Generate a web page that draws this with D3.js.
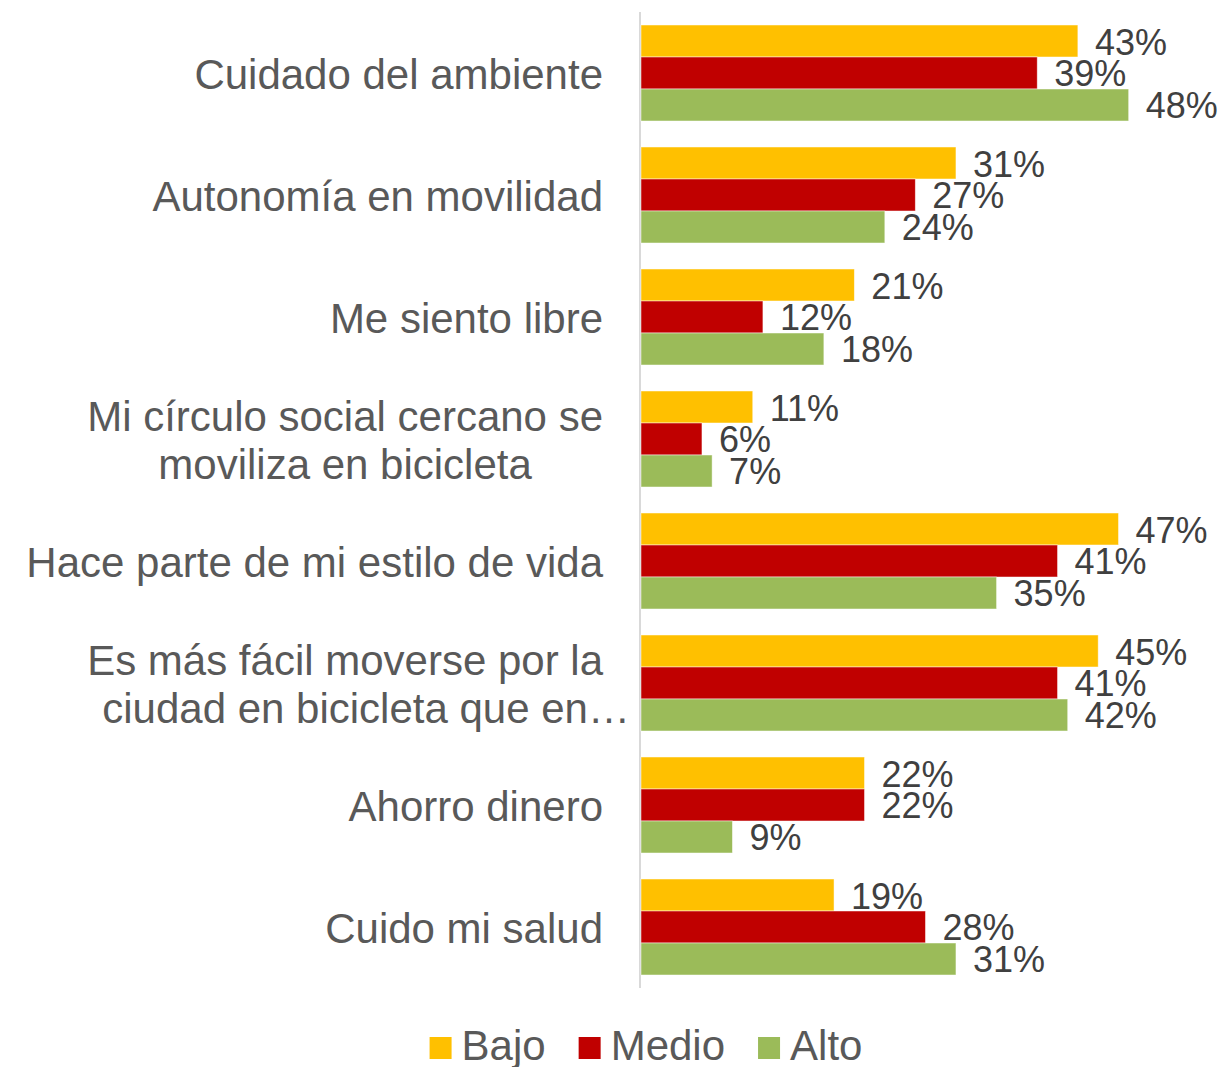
<!DOCTYPE html>
<html>
<head>
<meta charset="utf-8">
<script src="https://cdn.jsdelivr.net/npm/d3@7"></script>
<style>
  html, body { margin: 0; padding: 0; background: #fff; }
  svg { display: block; font-family: "Liberation Sans", Arial, sans-serif; }
</style>
</head>
<body>
<svg id="chart" width="1223" height="1067"></svg>
<script>
// Motivos para usar la bicicleta, por nivel
const categories = [
  ["Cuidado del ambiente"],
  ["Autonomía en movilidad"],
  ["Me siento libre"],
  ["Mi círculo social cercano se", "moviliza en bicicleta"],
  ["Hace parte de mi estilo de vida"],
  ["Es más fácil moverse por la", "ciudad en bicicleta que en…"],
  ["Ahorro dinero"],
  ["Cuido mi salud"]
];
const series = ["Bajo", "Medio", "Alto"];
const bajo  = [43, 31, 21, 11, 47, 45, 22, 19];
const medio = [39, 27, 12, 6, 41, 41, 22, 28];
const alto  = [48, 24, 18, 7, 35, 42, 9, 31];
const colors = ["#FFC000", "#C00000", "#9BBB59"];

const values = [bajo, medio, alto];
const keys = categories.map((c, i) => "c" + i);

const svg = d3.select("#chart");

const x = d3.scaleLinear().domain([0, 50]).range([641, 1149]);
const y = d3.scaleBand().domain(keys).range([12, 988])
  .paddingInner(0.213).paddingOuter(0.1065);
const ySub = d3.scaleBand().domain(series).range([0, y.bandwidth()]);
const color = d3.scaleOrdinal().domain(series).range(colors);

// vertical category axis line
svg.append("line")
  .attr("x1", 640).attr("x2", 640)
  .attr("y1", 12).attr("y2", 988)
  .attr("stroke", "#d9d9d9").attr("stroke-width", 2);

// bars
const groups = svg.append("g").selectAll("g")
  .data(keys)
  .join("g")
  .attr("transform", k => `translate(0,${y(k)})`);

groups.each(function(k, ci) {
  const g = d3.select(this);
  const rows = series.map((s, si) => ({ s, v: values[si][ci] }));
  g.selectAll("rect")
    .data(rows)
    .join("rect")
    .attr("x", x(0))
    .attr("y", d => ySub(d.s))
    .attr("width", d => x(d.v) - x(0))
    .attr("height", ySub.bandwidth())
    .attr("fill", d => color(d.s))
    .attr("stroke", "#ffffff")
    .attr("stroke-opacity", 0.6)
    .attr("stroke-width", 0.8);
  g.selectAll("text.val")
    .data(rows)
    .join("text")
    .attr("class", "val")
    .attr("x", d => x(d.v) + 17)
    .attr("y", d => ySub(d.s) + ySub.bandwidth() / 2 + 13.5)
    .attr("font-size", 36)
    .attr("fill", "#404040")
    .text(d => d.v + "%");
});

// category labels, multi-line labels centred on each other
const labelRight = 603;
const lineGap = 48;
const labels = svg.append("g").attr("font-size", 42).attr("fill", "#595959");
categories.forEach((lines, ci) => {
  const cy = y(keys[ci]) + y.bandwidth() / 2;
  const first = cy - (lines.length - 1) * lineGap / 2 + 15.5;
  if (lines.length === 1) {
    labels.append("text")
      .attr("x", labelRight).attr("y", first)
      .attr("text-anchor", "end")
      .text(lines[0]);
    return;
  }
  const nodes = lines.map((ln, li) => {
    const trunc = ln.endsWith("…");
    const t = labels.append("text").attr("y", first + li * lineGap)
      .text(trunc ? ln.slice(0, -1) : ln);
    return { t, trunc, w: t.node().getComputedTextLength() };
  });
  const maxW = d3.max(nodes, n => n.w);
  const center = labelRight - maxW / 2;
  nodes.forEach(n => {
    n.t.attr("x", center - n.w / 2);
    if (n.trunc) n.t.append("tspan").text("…");
  });
});

// legend
const legend = svg.append("g");
const sq = 22, sqGap = 10, itemGap = 33, legendY = 1060;
let cursor = 0;
const items = series.map(s => {
  const g = legend.append("g");
  g.append("rect").attr("width", sq).attr("height", sq)
    .attr("y", legendY - 23).attr("fill", color(s));
  const t = g.append("text").attr("x", sq + sqGap).attr("y", legendY)
    .attr("font-size", 42).attr("fill", "#595959").text(s);
  const w = sq + sqGap + t.node().getComputedTextLength();
  g.attr("transform", `translate(${cursor},0)`);
  cursor += w + itemGap;
  return g;
});
const legendW = cursor - itemGap;
legend.attr("transform", `translate(${646 - legendW / 2},0)`);
</script>
</body>
</html>
